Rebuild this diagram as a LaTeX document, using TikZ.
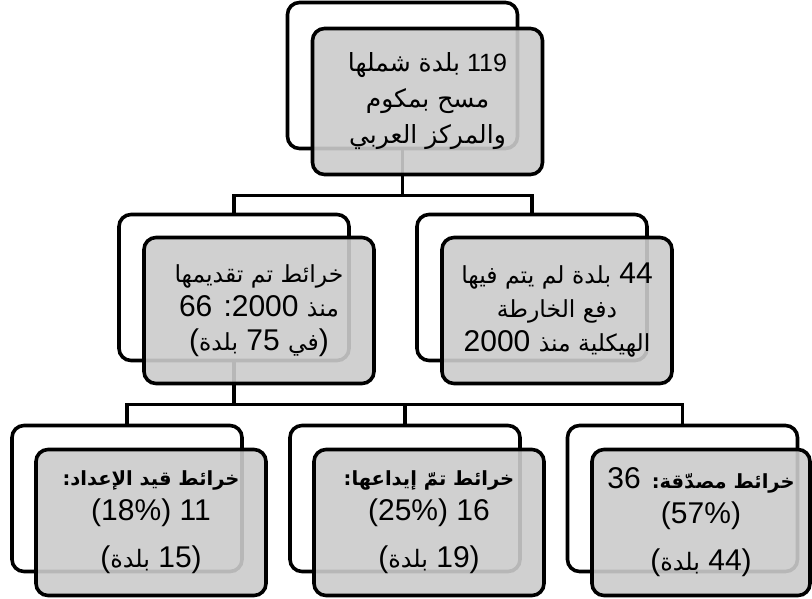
\documentclass[tikz,border=0pt]{standalone}
\usepackage{fontspec}
\setmainfont{Liberation Sans}
\newfontfamily\arfont[Script=Arabic]{DejaVu Sans}
\TeXXeTstate=1
\newcommand{\rline}[1]{\beginR#1\endR}
\newcommand{\arsz}{24}
\newcommand{\ar}[1]{{\arfont\fontsize{\arsz}{35}\selectfont#1}}
\newcommand{\arb}[1]{{\arfont\bfseries\fontsize{19.5}{35}\selectfont#1}}
\definecolor{boxgray}{RGB}{203,203,203}

\begin{document}
\begin{tikzpicture}[x=1pt,y=-1pt,
  back/.style={draw,line width=3.6pt,rounded corners=12pt,fill=white,minimum width=230pt,minimum height=146pt},
  front/.style={back,fill=boxgray,fill opacity=0.9,text opacity=1,align=center},
  topfont/.style={font=\fontsize{25}{36}\selectfont\def\arsz{25}},
  midfont/.style={font=\fontsize{30}{34}\selectfont\def\arsz{23.5}},
  lowfont/.style={font=\fontsize{30}{35}\selectfont\def\arsz{24}},
  link/.style={line width=3.2pt}]

\useasboundingbox (0,0) rectangle (812,598);

%Back boxes
\node[back] (surveyB) at (402.5,75.5) {};
\node[back] (mapsB) at (234,287.5) {};
\node[back] (nomapB) at (532,287.5) {};
\node[back] (prepB) at (127,498.5) {};
\node[back] (filedB) at (405,498.5) {};
\node[back] (certB) at (682.5,498.5) {};

%Connectors
\draw[link] (surveyB.south) -- ++(0,45) -| (mapsB.north);
\draw[link] (surveyB.south) -- ++(0,45) -| (nomapB.north);
\draw[link] (mapsB.south) -- ++(0,42) -| (prepB.north);
\draw[link] (mapsB.south) -- ++(0,42) -| (filedB.north);
\draw[link] (mapsB.south) -- ++(0,42) -| (certB.north);

%Front boxes
\node[front,topfont] (surveyF) at ([shift={(25,26)}]surveyB) {\rline{119 \ar{بلدة شملها}}\\
  \rline{\ar{مسح بمكوم}}\\
  \rline{\ar{والمركز العربي}}};
\node[front,midfont] (mapsF) at ([shift={(25,23)}]mapsB) {\rline{\ar{خرائط تم تقديمها}}\\
  \rline{\ar{منذ} \beginL2000\endL: 66}\\
  \rline{)\ar{في} 75 \ar{بلدة}(}};
\node[front,midfont] (nomapF) at ([shift={(25,23)}]nomapB) {\rline{44 \ar{بلدة لم يتم فيها}}\\
  \rline{\ar{دفع الخارطة}}\\
  \rline{\ar{الهيكلية منذ} 2000}};
\node[front,lowfont] (prepF) at ([shift={(24,24)}]prepB) {\rline{\arb{خرائط قيد الإعداد:}}\\
  \rline{11 \beginL(18\%)\endL}\\[12pt]
  \rline{)\beginL15\endL\ \ar{بلدة}(}};
\node[front,lowfont] (filedF) at ([shift={(24,24)}]filedB) {\rline{\arb{خرائط تمّ إيداعها:}}\\
  \rline{16 \beginL(25\%)\endL}\\[12pt]
  \rline{)\beginL19\endL\ \ar{بلدة}(}};
\node[front,lowfont,minimum width=218pt] (certF) at ([shift={(18.5,24)}]certB) {\rline{\arb{خرائط مصدّقة:} 36}\\
  \rline{\beginL(57\%)\endL}\\[12pt]
  \rline{)\beginL44\endL\ \ar{بلدة}(}};

\end{tikzpicture}
\end{document}
